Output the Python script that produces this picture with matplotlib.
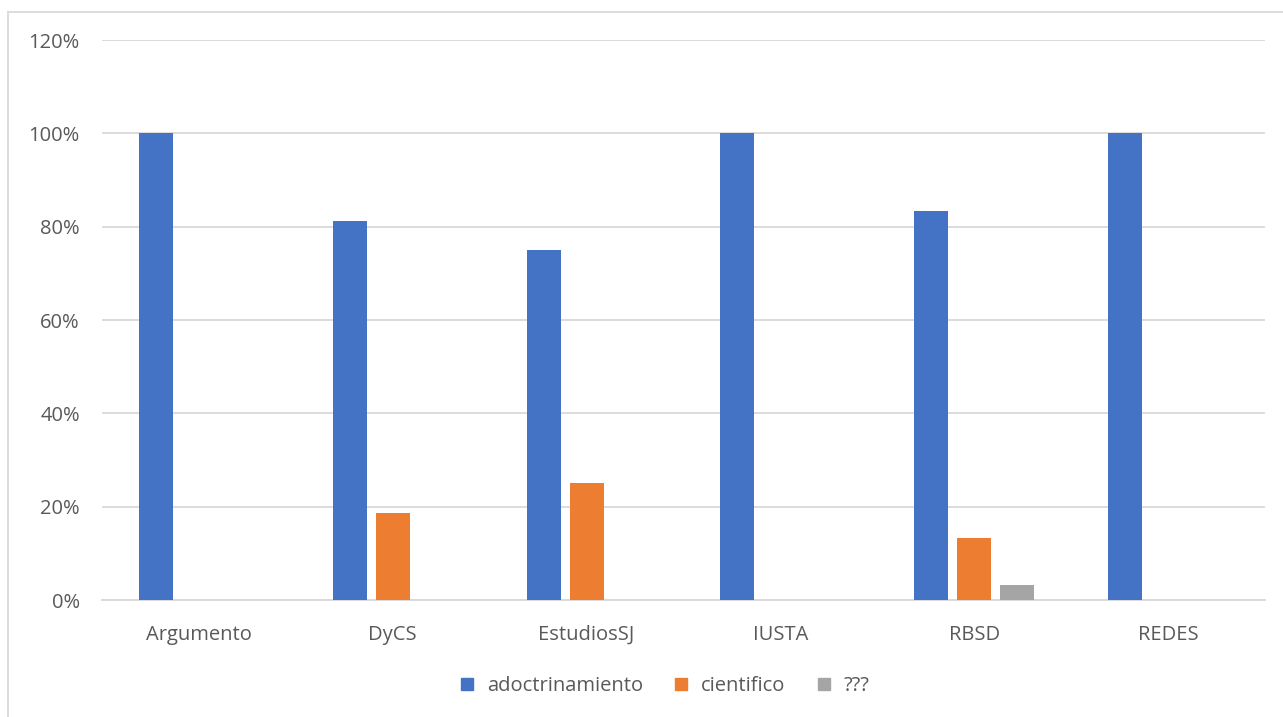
import numpy as np
import matplotlib
matplotlib.use("Agg")
import matplotlib.pyplot as plt
from matplotlib.lines import Line2D

categories = ["Argumento", "DyCS", "EstudiosSJ", "IUSTA", "RBSD", "REDES"]
adoctrinamiento = [100.0, 81.25, 75.0, 100.0, 83.33, 100.0]
cientifico = [0.0, 18.75, 25.0, 0.0, 13.33, 0.0]
desconocido = [0.0, 0.0, 0.0, 0.0, 3.33, 0.0]
series = [("adoctrinamiento", adoctrinamiento, "#4472C4"),
          ("cientifico", cientifico, "#ED7D31"),
          ("???", desconocido, "#A5A5A5")]

plt.rcParams["font.family"] = ["Open Sans", "DejaVu Sans"]
TXT = "#595959"
GRID = "#D9D9D9"
FS = 14.5

fig = plt.figure(figsize=(12.83, 7.17), dpi=100)
ax = fig.add_axes([0.0795, 0.163, 0.9065, 0.781])

x = np.arange(len(categories))
width = 0.175
step = 0.222
for i, (label, vals, color) in enumerate(series):
    ax.bar(x + (i - 1) * step, vals, width, color=color, label=label, zorder=3)

ax.set_xlim(-0.5, len(categories) - 0.5)
ax.set_ylim(0, 120)
ax.set_yticks(np.arange(0, 121, 20))
ax.set_yticklabels([f"{v}%" for v in range(0, 121, 20)])
ax.set_xticks(x)
ax.set_xticklabels(categories)
ax.tick_params(axis="both", length=0, colors=TXT, labelsize=FS)
ax.tick_params(axis="y", pad=16)
ax.tick_params(axis="x", pad=18)
ax.grid(axis="y", color=GRID, lw=1.3, zorder=0)
for s in ["top", "right", "left"]:
    ax.spines[s].set_visible(False)
ax.spines["bottom"].set_color(GRID)
ax.spines["bottom"].set_linewidth(1.3)

handles = [Line2D([], [], marker="s", ls="", markersize=9, color=c) for _, _, c in series]
fig.legend(handles, [s[0] for s in series], loc="center", bbox_to_anchor=(0.513, 0.043),
           ncol=3, frameon=False, fontsize=FS, labelcolor=TXT, handletextpad=0.0,
           columnspacing=0.9)

# chart border (cropped at right and bottom)
fig.add_artist(Line2D([8 / 1283, 8 / 1283], [0, 1 - 12 / 717], transform=fig.transFigure,
                      color=GRID, lw=1.3))
fig.add_artist(Line2D([8 / 1283, 1], [1 - 12 / 717, 1 - 12 / 717], transform=fig.transFigure,
                      color=GRID, lw=1.3))

fig.savefig("out.png", dpi=100)
